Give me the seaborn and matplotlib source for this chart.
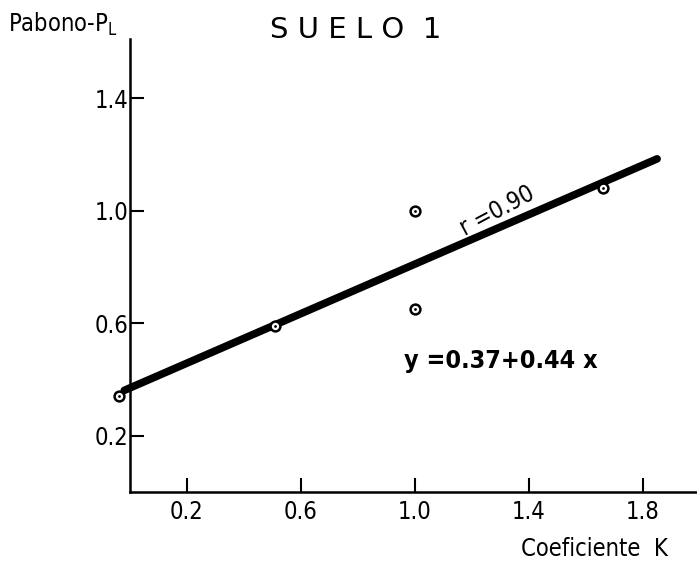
import matplotlib
matplotlib.use("Agg")
import matplotlib.pyplot as plt
import seaborn as sns
import numpy as np
import pandas as pd

# Data
coef_k = [-0.04, 0.51, 1.0, 1.0, 1.66]
p_diff = [0.34, 0.59, 1.0, 0.65, 1.08]
intercept = 0.37
slope = 0.44
line_x = [-0.02, 1.85]
x_ticks = [0.2, 0.6, 1.0, 1.4, 1.8]
y_ticks = [0.2, 0.6, 1.0, 1.4]

sns.set_style("ticks")
plt.rcParams['font.family'] = ['DejaVu Sans']
plt.rcParams['font.stretch'] = 'condensed'
plt.rcParams['text.color'] = 'black'

fig = plt.figure(figsize=(6.97, 5.63), dpi=100)
ax = fig.add_axes([130/697, 1 - 492/563, 1 - 130/697, (492 - 39)/563])

pts = pd.DataFrame({"K": coef_k, "P": p_diff})
line_df = pd.DataFrame({"K": line_x, "P": [intercept + slope * v for v in line_x]})

sns.lineplot(data=line_df, x="K", y="P", ax=ax, color="black", lw=5.5,
             solid_capstyle="round", clip_on=False, zorder=2)
sns.scatterplot(data=pts, x="K", y="P", ax=ax, marker="o", s=50,
                facecolor="white", edgecolor="black", linewidth=1.8,
                clip_on=False, zorder=3)
sns.scatterplot(data=pts, x="K", y="P", ax=ax, marker="o", s=4,
                color="black", linewidth=0, clip_on=False, zorder=4)

ax.set_xlim(0, 1.99)
ax.set_ylim(0, 1.61)
ax.set_xticks(x_ticks)
ax.set_yticks(y_ticks)
ax.set_xticklabels([f"{v:.1f}" for v in x_ticks])
ax.set_yticklabels([f"{v:.1f}" for v in y_ticks])
ax.tick_params(direction="in", length=10, width=1.5, labelsize=17, pad=6,
               colors="black")
ax.tick_params(axis="y", pad=1)
for s in ["left", "bottom"]:
    ax.spines[s].set_linewidth(1.8)
    ax.spines[s].set_color("black")
sns.despine(ax=ax)
ax.set_xlabel("")
ax.set_ylabel("")

fig.text(594/697, 1 - 549/563, "Coeficiente  K", fontsize=17,
         ha="center", va="center", fontstretch="condensed", color="black")
fig.text(8/697, 1 - 24/563, "Pabono-P$_\\mathregular{L}$", fontsize=17,
         ha="left", va="center", fontstretch="condensed", color="black")
fig.text(356/697, 1 - 30/563, "S U E L O  1", fontsize=21,
         ha="center", va="center", fontstretch="normal", color="black")

ax.text(1.30, 0.465, "y =0.37+0.44 x", fontsize=18, fontweight="bold",
        ha="center", va="center", fontstretch="condensed", color="black")
ax.text(1.29, 1.0, "r =0.90", fontsize=17, rotation=28,
        ha="center", va="center", fontstretch="condensed", color="black")

fig.savefig("out.png", dpi=100)
